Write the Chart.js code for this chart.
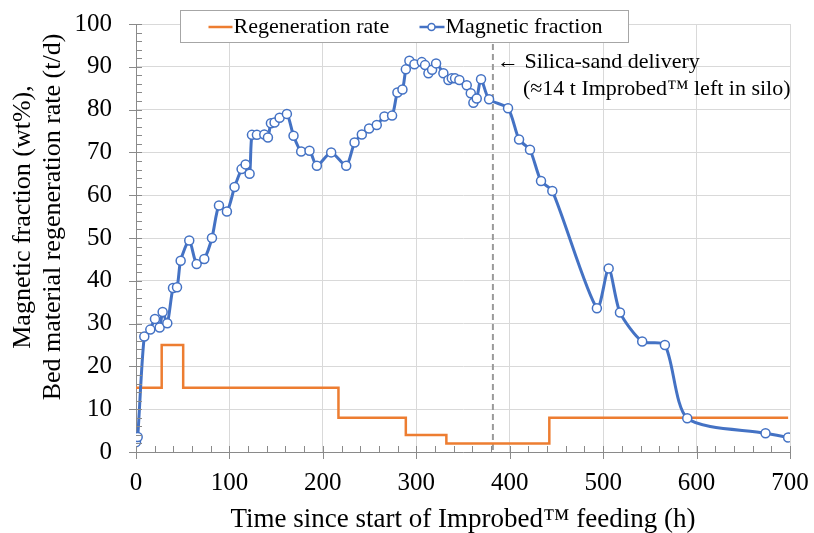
<!DOCTYPE html>
<html>
<head>
<meta charset="utf-8">
<script src="https://cdn.jsdelivr.net/npm/chart.js@4/dist/chart.umd.min.js"></script>
<style>
html,body{margin:0;padding:0;background:#fff;}
#wrap{width:814px;height:533px;position:relative;}
</style>
</head>
<body>
<div id="wrap"><canvas id="c" width="814" height="533"></canvas></div>
<script>
// ---- data ----
const magTimes = [0, 1.8, 8.9, 15.3, 20.3, 25.3, 28.5, 33.5, 39.6, 43.9, 47.8, 57.0, 64.9, 73.1, 81.3, 88.8, 97.3, 105.5, 113.0, 117.3, 121.6, 124.1, 129.4, 137.3, 141.2, 144.4, 148.3, 153.7, 161.5, 168.6, 176.8, 185.7, 193.6, 208.9, 225.0, 233.9, 241.7, 249.5, 257.7, 265.9, 274.1, 279.8, 285.2, 288.8, 292.6, 298.0, 305.9, 309.4, 313.0, 316.9, 321.2, 329.0, 334.4, 338.0, 341.5, 346.1, 354.0, 358.3, 361.1, 364.7, 369.3, 377.9, 398.2, 410.0, 421.7, 433.5, 445.6, 493.3, 505.9, 518.0, 541.8, 566.1, 590.0, 673.8, 698.0];
const magValues = [2.3, 3.5, 27.0, 28.6, 31.1, 29.1, 32.7, 30.1, 38.3, 38.5, 44.7, 49.4, 43.9, 45.1, 50.0, 57.6, 56.2, 61.9, 66.1, 67.2, 65.0, 74.1, 74.1, 74.2, 73.5, 76.8, 77.0, 78.1, 79.0, 73.9, 70.2, 70.4, 66.9, 70.0, 66.9, 72.3, 74.2, 75.6, 76.4, 78.4, 78.6, 84.0, 84.7, 89.4, 91.4, 90.6, 91.1, 90.4, 88.5, 89.3, 90.8, 88.5, 86.9, 87.3, 87.3, 86.9, 85.7, 83.8, 81.6, 82.6, 87.1, 82.4, 80.3, 73.0, 70.6, 63.3, 61.0, 33.6, 42.9, 32.6, 25.8, 25.0, 7.9, 4.4, 3.4];
const regenTimes = [0, 27.5, 50.5, 216.7, 288.8, 332.2, 442.4, 698];
const regenRates = [15, 25, 15, 8, 4, 2, 8, 8];
const deliveryTime = 382;
const seriesNames = ['Regeneration rate', 'Magnetic fraction'];
const xAxisTitle = 'Time since start of Improbed\u2122 feeding (h)';
const yAxisTitle = ['Magnetic fraction (wt%),', 'Bed material regeneration rate (t/d)'];
const noteLines = ['\u2190 Silica-sand delivery', '(\u224814 t Improbed\u2122 left in silo)'];

const BLUE = '#4472C4';
const ORANGE = '#ED7D31';
const SERIF = '"Liberation Serif", "Times New Roman", serif';

const magData = magTimes.map((t, i) => ({x: t, y: magValues[i]}));
const regenData = regenTimes.map((t, i) => ({x: t, y: regenRates[i]}));

const decor = {
  id: 'decor',
  beforeDatasetsDraw(chart) {
    const {ctx, scales: {x, y}} = chart;
    const px = x.getPixelForValue(deliveryTime);
    ctx.save();
    ctx.strokeStyle = '#9a9a9a';
    ctx.lineWidth = 2;
    ctx.setLineDash([6, 4]);
    ctx.beginPath();
    ctx.moveTo(px, y.getPixelForValue(100));
    ctx.lineTo(px, y.getPixelForValue(0));
    ctx.stroke();
    ctx.restore();
  },
  afterDraw(chart) {
    const {ctx, scales: {x, y}} = chart;
    const x0 = x.getPixelForValue(0), y0 = y.getPixelForValue(0);
    ctx.save();
    ctx.strokeStyle = '#8a8a8a';
    ctx.lineWidth = 1;
    ctx.beginPath();
    for (let v = 0; v <= 700; v += 20) {
      const p = Math.round(x.getPixelForValue(v)) + 0.5;
      const major = v % 100 === 0;
      ctx.moveTo(p, y0 - 6);
      ctx.lineTo(p, major ? y0 + 7 : y0);
    }
    for (let v = 0; v <= 100; v += 2) {
      const p = Math.round(y.getPixelForValue(v)) + 0.5;
      const major = v % 10 === 0;
      ctx.moveTo(major ? x0 - 7 : x0, p);
      ctx.lineTo(x0 + 6, p);
    }
    ctx.stroke();

    // y-axis title (two lines)
    ctx.fillStyle = '#000';
    ctx.font = '26px ' + SERIF;
    ctx.textAlign = 'center';
    ctx.textBaseline = 'middle';
    const tcy = (y.getPixelForValue(100) + y0) / 2 - 21;
    ctx.save();
    ctx.translate(23, tcy);
    ctx.rotate(-Math.PI / 2);
    ctx.fillText(yAxisTitle[0], 0, 0);
    ctx.fillText(yAxisTitle[1], 0, 30);
    ctx.restore();

    // annotation
    ctx.font = '22px ' + SERIF;
    ctx.textBaseline = 'alphabetic';
    ctx.textAlign = 'left';
    const ax = x.getPixelForValue(deliveryTime) + 4;
    ctx.fillText(noteLines[0], ax, y.getPixelForValue(90) + 1);
    ctx.fillText(noteLines[1], ax + 26, y.getPixelForValue(90) + 28);

    // legend
    const lx = 180.5, ly = 10, lw = 448, lh = 32;
    ctx.fillStyle = '#fff';
    ctx.fillRect(lx, ly, lw, lh);
    ctx.strokeStyle = '#a6a6a6';
    ctx.lineWidth = 1;
    ctx.strokeRect(lx, ly + 0.5, lw, lh);
    const cy = ly + lh / 2 + 1;
    ctx.lineWidth = 2.5;
    ctx.strokeStyle = ORANGE;
    ctx.beginPath(); ctx.moveTo(lx + 28, cy); ctx.lineTo(lx + 52, cy); ctx.stroke();
    ctx.fillStyle = '#000';
    ctx.font = '22px ' + SERIF;
    ctx.textBaseline = 'middle';
    ctx.fillText(seriesNames[0], lx + 53, cy);
    ctx.strokeStyle = BLUE;
    ctx.beginPath(); ctx.moveTo(lx + 239, cy); ctx.lineTo(lx + 264, cy); ctx.stroke();
    ctx.fillStyle = '#fff';
    ctx.lineWidth = 1.5;
    ctx.beginPath(); ctx.arc(lx + 251, cy, 3.5, 0, Math.PI * 2); ctx.fill(); ctx.stroke();
    ctx.fillStyle = '#000';
    ctx.fillText(seriesNames[1], lx + 265, cy);
    ctx.restore();
  }
};

new Chart(document.getElementById('c'), {
  type: 'line',
  data: {
    datasets: [
      {
        label: seriesNames[1],
        data: magData,
        borderColor: BLUE,
        backgroundColor: '#fff',
        borderWidth: 3,
        pointRadius: 4.5,
        pointBorderWidth: 1.5,
        pointBackgroundColor: '#fff',
        pointBorderColor: BLUE,
        tension: 0.25,
        order: 0
      },
      {
        label: seriesNames[0],
        data: regenData,
        borderColor: ORANGE,
        borderWidth: 2.5,
        pointRadius: 0,
        stepped: 'before',
        tension: 0,
        order: 1
      }
    ]
  },
  options: {
    responsive: false,
    animation: false,
    layout: {padding: {top: 24, right: 24, left: 0, bottom: 0}},
    plugins: {legend: {display: false}, tooltip: {enabled: false}},
    scales: {
      x: {
        type: 'linear',
        min: 0, max: 700,
        afterFit(s) { s.height = 81; s.paddingLeft = 0; s.paddingRight = 0; },
        ticks: {stepSize: 100, color: '#000', padding: 16, font: {family: SERIF, size: 25}},
        grid: {color: '#d9d9d9', drawTicks: false},
        border: {color: '#8a8a8a'},
        title: {display: true, text: xAxisTitle, color: '#000', font: {family: SERIF, size: 27, lineHeight: 1.0}, padding: {top: 0, bottom: 0}}
      },
      y: {
        min: 0, max: 100,
        afterFit(s) { s.width = 136; s.paddingTop = 0; s.paddingBottom = 0; },
        ticks: {stepSize: 10, color: '#000', padding: 24, font: {family: SERIF, size: 25}},
        grid: {color: '#d9d9d9', drawTicks: false},
        border: {color: '#8a8a8a'},
        title: {display: false}
      }
    }
  },
  plugins: [decor]
});
</script>
</body>
</html>
